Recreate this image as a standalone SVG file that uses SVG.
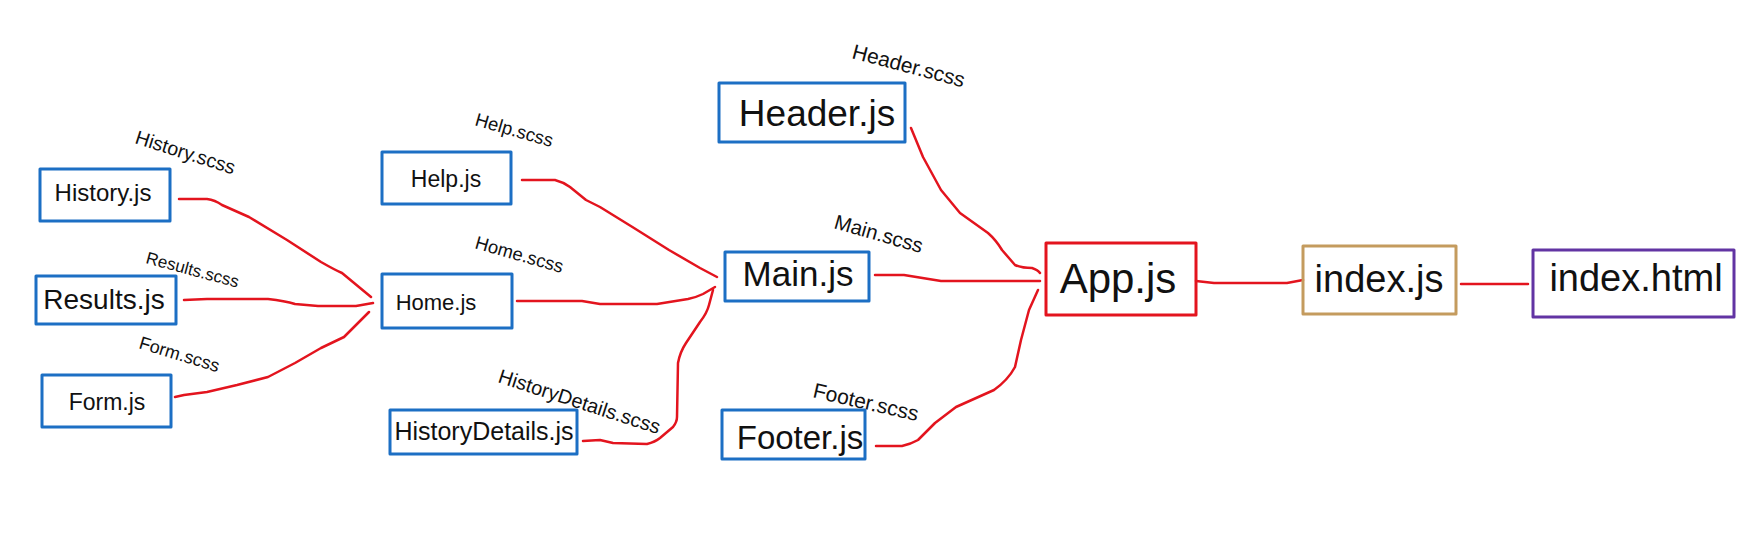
<svg xmlns="http://www.w3.org/2000/svg" width="1756" height="557" viewBox="0 0 1756 557">
<style>
.bg{fill:#ffffff}
.box{fill:none;stroke-width:3;stroke-linejoin:round}
.blue{stroke:#1c6fc4}
.red{stroke:#e3141e}
.tan{stroke:#c49b5e}
.purple{stroke:#6234a3}
.t{font-family:"Liberation Sans",Arial,sans-serif;fill:#111111;text-anchor:middle}
.lbl{font-family:"Liberation Sans",Arial,sans-serif;fill:#111111}
.con{fill:none;stroke:#e3141e;stroke-width:2.5;stroke-linejoin:round;stroke-linecap:round}
</style>
<rect class="bg" x="0" y="0" width="1756" height="557"/>
<g id="connectors">
<path class="con" d="M179,199 L207,199 Q215,200 222,205 L249,217 L287,240 L321,262 Q335,270 342,273 L371,297"/>
<path class="con" d="M184,300 L207,299 L268,299 Q285,301 295,304 L318,306 L356,306 L373,303"/>
<path class="con" d="M175,397 L184,395 L207,392 L237,385 L268,377 L295,363 L321,348 L344,337 L369,312"/>
<path class="con" d="M522,180 L555,180 Q563,182 570,187 L586,200 L600,207 L634,228 L669,250 L700,268 L717,277"/>
<path class="con" d="M517,301 L582,301 L600,304 L657,304 L688,299 Q697,297 703,294 L715,287"/>
<path class="con" d="M583,441 L600,440 L613,443 L647,444 Q655,442 660,438 L673,427 Q677,422 677,417 L678,363 Q680,352 686,343 L700,322 Q707,313 709,305 L713,290"/>
<path class="con" d="M911,128 L923,157 L941,190 L960,213 L988,233 Q996,240 1002,250 L1015,265 Q1022,268 1032,268 Q1038,270 1040,273"/>
<path class="con" d="M875,275 L904,275 L941,281 L1040,281"/>
<path class="con" d="M876,446 L902,446 Q911,444 918,440 L935,423 L956,407 L994,390 Q1008,380 1015,367 L1021,340 L1029,310 L1038,290"/>
<path class="con" d="M1196,281 L1214,283 L1287,283 L1303,280"/>
<path class="con" d="M1461,284 L1528,284"/>
</g>
<g id="labels">
<text class="lbl" font-size="19.5" x="134" y="143" transform="rotate(17.6 134 143)">History.scss</text>
<text class="lbl" font-size="17" x="145" y="263" transform="rotate(15 145 263)">Results.scss</text>
<text class="lbl" font-size="18" x="138" y="348" transform="rotate(17 138 348)">Form.scss</text>
<text class="lbl" font-size="18.5" x="474" y="125" transform="rotate(16 474 125)">Help.scss</text>
<text class="lbl" font-size="18.4" x="474" y="248" transform="rotate(16 474 248)">Home.scss</text>
<text class="lbl" font-size="20" x="497" y="382" transform="rotate(18 497 382)">HistoryDetails.scss</text>
<text class="lbl" font-size="21" x="851" y="58" transform="rotate(14.7 851 58)">Header.scss</text>
<text class="lbl" font-size="20.5" x="833" y="228" transform="rotate(16 833 228)">Main.scss</text>
<text class="lbl" font-size="21" x="812" y="397" transform="rotate(13 812 397)">Footer.scss</text>
</g>
<g id="node-history"><rect class="box blue" x="40" y="169" width="130" height="52"/><text class="t" font-size="24" x="103" y="201">History.js</text></g>
<g id="node-results"><rect class="box blue" x="36" y="276" width="140" height="48"/><text class="t" font-size="28" x="104" y="309">Results.js</text></g>
<g id="node-form"><rect class="box blue" x="42" y="375" width="129" height="52"/><text class="t" font-size="23" x="107" y="410">Form.js</text></g>
<g id="node-help"><rect class="box blue" x="382" y="152" width="129" height="52"/><text class="t" font-size="23" x="446" y="187">Help.js</text></g>
<g id="node-home"><rect class="box blue" x="382" y="274" width="130" height="54"/><text class="t" font-size="22" x="436" y="310">Home.js</text></g>
<g id="node-historydetails"><rect class="box blue" x="390" y="410" width="187" height="44"/><text class="t" font-size="25" x="484" y="440">HistoryDetails.js</text></g>
<g id="node-header"><rect class="box blue" x="719" y="83" width="186" height="59"/><text class="t" font-size="37" x="817" y="126">Header.js</text></g>
<g id="node-main"><rect class="box blue" x="725" y="252" width="144" height="49"/><text class="t" font-size="35" x="798" y="286">Main.js</text></g>
<g id="node-footer"><rect class="box blue" x="722" y="410" width="143" height="49"/><text class="t" font-size="33" x="800" y="449">Footer.js</text></g>
<g id="node-app"><rect class="box red" x="1046" y="243" width="150" height="72"/><text class="t" font-size="42" x="1118" y="293">App.js</text></g>
<g id="node-indexjs"><rect class="box tan" x="1303" y="246" width="153" height="68"/><text class="t" font-size="38" x="1379" y="292">index.js</text></g>
<g id="node-indexhtml"><rect class="box purple" x="1533" y="250" width="201" height="67"/><text class="t" font-size="38" x="1636" y="291">index.html</text></g>
</svg>
